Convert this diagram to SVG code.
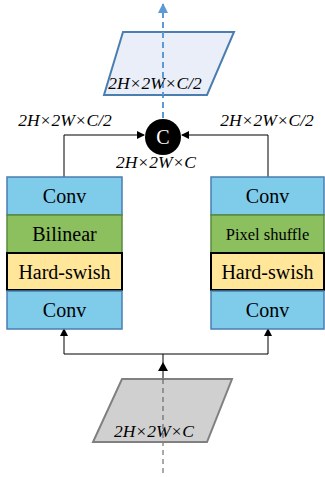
<svg xmlns="http://www.w3.org/2000/svg" width="325" height="477" viewBox="0 0 325 477">
<style>
text{font-family:"Liberation Serif",Tinos,"Times New Roman","DejaVu Serif",serif;fill:#000}
.it{font-style:italic;font-size:17.5px}
.bx{font-size:20px;text-anchor:middle}
.conv{fill:#7fcbea;stroke:#4a7eb0;stroke-width:1.5}
.grn{fill:#8cbf5e;stroke:#5a8a3a;stroke-width:1.5}
.yel{fill:#ffe699;stroke:#000;stroke-width:2}
.ln{fill:none;stroke:#000;stroke-width:1}
</style>
<defs>
<marker id="ah" markerWidth="8" markerHeight="8" refX="7" refY="4" orient="auto" markerUnits="userSpaceOnUse"><path d="M0,0 L8,4 L0,8 Z" fill="#000"/></marker>
<marker id="ahb" markerWidth="10" markerHeight="10" refX="9" refY="5" orient="auto" markerUnits="userSpaceOnUse"><path d="M0,0 L10,5 L0,10 Z" fill="#5b9bd5"/></marker>
</defs>
<g id="connectors">
<path d="M163,118 L163,4" stroke="#5b9bd5" stroke-width="2" stroke-dasharray="6,4" fill="none" marker-end="url(#ahb)"/>
<path class="ln" d="M64,177 L64,135 L144,135" marker-end="url(#ah)"/>
<path class="ln" d="M268,177 L268,135 L182,135" marker-end="url(#ah)"/>
<path class="ln" d="M64,354 L64,329" marker-end="url(#ah)"/>
<path class="ln" d="M268,354 L268,329" marker-end="url(#ah)"/>
<path class="ln" d="M64,354 L268,354"/>
<path class="ln" d="M163,354 L163,378"/>
<path d="M158,371 L163,362 L168,371 Z" fill="#000"/>
<path d="M163,378 L163,474" stroke="#555" stroke-width="1" stroke-dasharray="5,4" fill="none"/>
</g>
<g id="out">
<polygon points="123,32 234,32 207,95 104,95" fill="#e9eef8" stroke="#4a7eb0" stroke-width="2"/>
<path d="M163,32 L163,95" stroke="#5b9bd5" stroke-width="2" stroke-dasharray="6,4"/>
<text class="it" x="155" y="89" text-anchor="middle">2H×2W×C/2</text>
</g>
<g id="concat">
<circle cx="163" cy="137" r="18" fill="#000"/>
<text x="163" y="144" text-anchor="middle" style="fill:#fff;font-size:20px">C</text>
</g>
<g id="labels">
<text class="it" x="65" y="126" text-anchor="middle">2H×2W×C/2</text>
<text class="it" x="267" y="126" text-anchor="middle">2H×2W×C/2</text>
<text class="it" x="156" y="168" text-anchor="middle">2H×2W×C</text>
</g>
<g id="left">
<rect class="conv" x="7" y="177" width="115" height="38"/>
<text class="bx" x="64.5" y="203">Conv</text>
<rect class="grn" x="7" y="215" width="115" height="38"/>
<text class="bx" x="64.5" y="241">Bilinear</text>
<rect class="yel" x="7" y="253" width="115" height="37"/>
<text class="bx" x="64.5" y="278.5">Hard-swish</text>
<rect class="conv" x="7" y="291" width="115" height="38"/>
<text class="bx" x="64.5" y="317">Conv</text>
</g>
<g id="right">
<rect class="conv" x="211" y="177" width="113" height="38"/>
<text class="bx" x="267.5" y="203">Conv</text>
<rect class="grn" x="211" y="215" width="113" height="38"/>
<text class="bx" x="267.5" y="240" style="font-size:16.5px">Pixel shuffle</text>
<rect class="yel" x="211" y="253" width="113" height="37"/>
<text class="bx" x="267.5" y="278.5">Hard-swish</text>
<rect class="conv" x="211" y="291" width="113" height="38"/>
<text class="bx" x="267.5" y="317">Conv</text>
</g>
<g id="input">
<polygon points="122,379 232,379 207,442 93,442" fill="#d0d0d0" stroke="#808080" stroke-width="2"/>
<path d="M163,379 L163,442" stroke="#555" stroke-width="1" stroke-dasharray="5,4"/>
<text class="it" x="154" y="437" text-anchor="middle">2H×2W×C</text>
</g>
</svg>
